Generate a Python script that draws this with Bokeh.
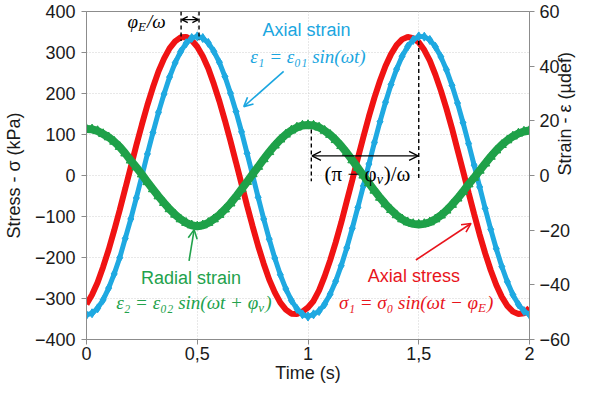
import math
import numpy as np
from bokeh.plotting import figure
from bokeh.models import Range1d, LinearAxis, FixedTicker, Arrow, OpenHead, Label
from bokeh.embed import file_html
from bokeh.resources import INLINE

# ---------------- data ----------------
time_s = np.round(np.arange(0, 81) * 0.025, 3)

stress_axial = [  # kPa, red
    -314, -291, -261, -223, -181, -134, -84, -32, 21, 74,
    124, 172, 215, 254, 285, 310, 327, 337, 338, 330,
    314, 291, 261, 223, 181, 134, 84, 32, -21, -74,
    -124, -172, -215, -254, -285, -310, -327, -337, -338, -332,
    -322, -306, -280, -246, -207, -163, -115, -63, -11, 42,
    94, 144, 190, 231, 267, 296, 318, 332, 338, 335,
    325, 306, 280, 246, 207, 163, 115, 63, 11, -42,
    -94, -144, -190, -231, -267, -296, -318, -332, -338, -336,
    -323]

strain_axial = [  # microstrain, blue
    -51.0, -50.4, -48.6, -45.5, -41.2, -36.0, -30.1, -23.0, -15.9, -8.2,
    -0.2, 7.9, 15.7, 23.1, 29.8, 36.0, 41.2, 45.3, 48.4, 50.3,
    50.9, 50.3, 48.5, 45.4, 41.4, 36.2, 30.1, 23.4, 16.0, 8.1,
    0.1, -8.0, -15.9, -23.3, -30.2, -36.3, -41.5, -45.7, -48.8, -50.8,
    -51.6, -50.8, -49.6, -47.1, -43.4, -38.7, -33.0, -26.5, -19.3, -11.7,
    -3.8, 4.2, 12.1, 19.7, 26.8, 33.3, 38.9, 43.6, 47.2, 49.6,
    50.9, 50.8, 49.6, 47.1, 43.4, 38.7, 33.0, 26.5, 19.3, 11.7,
    3.8, -4.2, -12.1, -19.7, -26.8, -33.3, -38.9, -43.6, -47.2, -49.6,
    -50.9]

strain_radial = [  # microstrain, green
    17.0, 16.9, 16.3, 15.2, 14.0, 12.4, 10.5, 8.1, 5.5, 3.0,
    0.4, -2.4, -5.0, -7.6, -10.0, -12.3, -14.3, -16.0, -17.3, -18.2,
    -18.6, -18.2, -17.3, -16.0, -14.4, -12.4, -10.2, -7.7, -5.0, -2.3,
    0.5, 3.2, 6.0, 8.6, 11.0, 13.2, 15.0, 16.5, 17.6, 18.3,
    18.5, 18.3, 17.6, 16.4, 14.9, 13.0, 10.8, 8.3, 5.6, 2.8,
    0.0, -2.8, -5.5, -8.1, -10.5, -12.6, -14.5, -16.0, -17.1, -17.7,
    -17.9, -17.7, -17.1, -16.0, -14.6, -12.8, -10.7, -8.4, -5.9, -3.2,
    -0.8, 1.8, 4.4, 6.9, 9.2, 11.2, 12.9, 14.3, 15.4, 16.1,
    16.5]

x_ticks = [0, 0.5, 1, 1.5, 2]
x_tick_labels = ["0", "0,5", "1", "1,5", "2"]
stress_ticks = [-400, -300, -200, -100, 0, 100, 200, 300, 400]
strain_ticks = [-60, -40, -20, 0, 20, 40, 60]

# ---------------- styling ----------------
RED = "#f01313"
BLUE = "#1fa9e1"
GREEN = "#1fa149"
T_RED = "#e8141c"
T_BLUE = "#1ba6e0"
T_GREEN = "#22a24c"
AXIS_GREY = "#8c8c8c"
SANS = "Liberation Sans"
SERIF = "Liberation Serif"

p = figure(width=588, height=385, output_backend="svg", toolbar_location=None,
           x_range=Range1d(0, 2), y_range=Range1d(-400, 400),
           min_border_left=76, min_border_right=10, min_border_top=11,
           min_border_bottom=10)
p.background_fill_color = "white"
p.border_fill_color = "white"
p.outline_line_color = AXIS_GREY
p.outline_line_width = 1

p.extra_y_ranges = {"strain": Range1d(-60, 60)}


def style_axis(ax):
    ax.axis_line_color = AXIS_GREY
    ax.major_tick_line_color = AXIS_GREY
    ax.minor_tick_line_color = None
    ax.major_tick_out = 5
    ax.major_tick_in = 0
    ax.major_label_text_font = SANS
    ax.major_label_text_font_size = "18px"
    ax.major_label_text_color = "#1a1a1a"
    ax.axis_label_text_font = SANS
    ax.axis_label_text_font_size = "18px"
    ax.axis_label_text_font_style = "normal"
    ax.axis_label_text_color = "#1a1a1a"
    ax.major_label_standoff = 4
    ax.axis_label_standoff = 4


xa = p.xaxis[0]
style_axis(xa)
xa.ticker = FixedTicker(ticks=x_ticks)
xa.major_label_overrides = {t: l for t, l in zip(x_ticks, x_tick_labels)}
xa.axis_label = "Time (s)"
xa.axis_label_standoff = 0
xa.major_label_standoff = 2

ya = p.yaxis[0]
style_axis(ya)
ya.ticker = FixedTicker(ticks=stress_ticks)
ya.axis_label = "Stress - σ (kPa)"
ya.major_label_standoff = 6
ya.axis_label_standoff = 8

ra = LinearAxis(y_range_name="strain", ticker=FixedTicker(ticks=strain_ticks),
                axis_label="Strain - ε (µdef)")
style_axis(ra)
ra.major_label_standoff = 5
ra.axis_label_standoff = -8
if "axis_label_orientation" in ra.properties():
    ra.axis_label_orientation = math.pi / 2
p.add_layout(ra, "right")

p.xgrid.ticker = FixedTicker(ticks=x_ticks)
p.ygrid.ticker = FixedTicker(ticks=stress_ticks)
for g in (p.xgrid[0], p.ygrid[0]):
    g.grid_line_color = "#d0d0d0"
    g.grid_line_dash = "1 2"
    g.grid_line_width = 1

# ---------------- series ----------------
p.line(time_s, stress_axial, line_color=RED, line_width=6)
p.line(time_s, strain_axial, y_range_name="strain", line_color=BLUE, line_width=5)
p.scatter(time_s, strain_axial, y_range_name="strain", marker="diamond",
          size=9, fill_color=BLUE, line_color=BLUE)
p.line(time_s, strain_radial, y_range_name="strain", line_color=GREEN, line_width=8)
p.scatter(time_s, strain_radial, y_range_name="strain", marker="triangle",
          size=9, fill_color=GREEN, line_color=GREEN)

# ---------------- annotations (in stress coords) ----------------
dash_x0 = [0.427, 0.508, 1.015, 1.5]
dash_y0 = [400, 400, 112, 328]
dash_y1 = [328, 330, -14, -12]
p.segment(x0=dash_x0, y0=dash_y0, x1=dash_x0, y1=dash_y1,
          line_color="black", line_width=1.4, line_dash="4 3")


def dbl_arrow(x0, x1, y, size):
    p.add_layout(Arrow(x_start=x0, y_start=y, x_end=x1, y_end=y,
                       line_color="black", line_width=1.3,
                       start=OpenHead(size=size, line_color="black", line_width=1.3),
                       end=OpenHead(size=size, line_color="black", line_width=1.3)))


dbl_arrow(0.43, 0.505, 380, 6)
dbl_arrow(1.018, 1.497, 48, 9)


def arrow(x0, y0, x1, y1, color):
    p.add_layout(Arrow(x_start=x0, y_start=y0, x_end=x1, y_end=y1,
                       line_color=color, line_width=1.6,
                       end=OpenHead(size=9, line_color=color, line_width=1.6)))


arrow(0.89, 254, 0.71, 168, T_BLUE)
arrow(0.463, -208, 0.486, -132, T_GREEN)
arrow(1.487, -206, 1.736, -117, T_RED)


def lab(x, y, text, color, font=SANS, size="17px", style="normal",
        align="center", base="middle", xoff=0, yoff=0):
    p.add_layout(Label(x=x, y=y, text=text, text_color=color, text_font=font,
                       text_font_size=size, text_font_style=style,
                       text_align=align, text_baseline=base,
                       x_offset=xoff, y_offset=yoff))


# sans titles
lab(0.993, 354, "Axial strain", T_BLUE, size="18px")
lab(0.472, -249, "Radial strain", T_GREEN, size="18px")
lab(1.478, -244, "Axial stress", T_RED, size="18px")

# formulas (serif italic, pieces for subscripts)
FS = "19px"
SUB = "13px"
# blue
lab(1.0, 290, "ε₁ = ε₀₁ sin(ωt)", T_BLUE, SERIF, FS, "italic")
# green
lab(0.775, -309, "ε₂ = ε₀₂ sin(ωt + φ", T_GREEN, SERIF, FS, "italic", align="right")
lab(0.775, -309, "v", T_GREEN, SERIF, SUB, "italic", align="left", yoff=-5)
lab(0.775, -309, ")", T_GREEN, SERIF, FS, "italic", align="left", xoff=7)
# red
lab(1.768, -309, "σ₁ = σ₀ sin(ωt − φ", T_RED, SERIF, FS, "italic", align="right")
lab(1.768, -309, "E", T_RED, SERIF, SUB, "italic", align="left", yoff=-5)
lab(1.768, -309, ")", T_RED, SERIF, FS, "italic", align="left", xoff=9)
# black
lab(0.232, 375, "φ", "black", SERIF, FS, "italic", align="right")
lab(0.232, 375, "E", "black", SERIF, SUB, "italic", align="left", yoff=-5)
lab(0.232, 375, "/ω", "black", SERIF, FS, "italic", align="left", xoff=9)
lab(1.31, 4, "(π − φ", "black", SERIF, "21px", "normal", align="right")
lab(1.31, 4, "v", "black", SERIF, "14px", "italic", align="left", yoff=-6)
lab(1.31, 4, ")/ω", "black", SERIF, "21px", "normal", align="left", xoff=7)

open("out.html", "w").write(file_html(p, INLINE))
